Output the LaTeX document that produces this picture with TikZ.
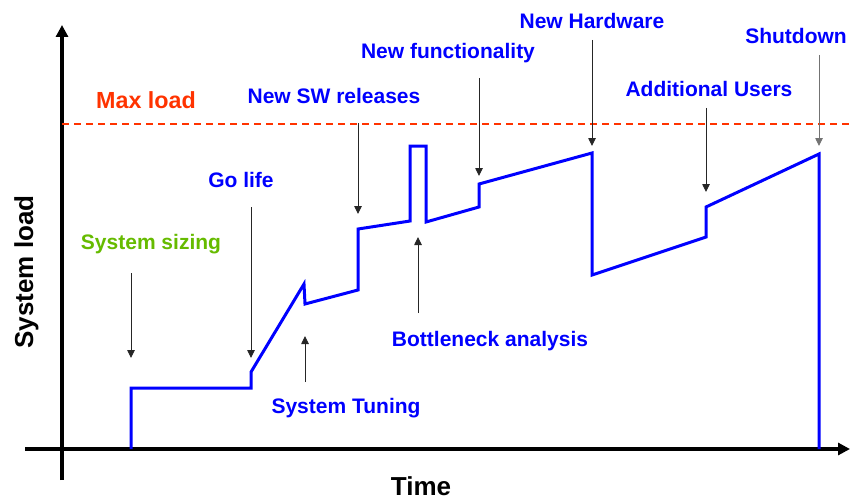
\documentclass[tikz,border=0pt]{standalone}
\usepackage{fontspec}
\setmainfont{Liberation Sans}
\usetikzlibrary{arrows.meta}
\definecolor{maxred}{RGB}{255,51,0}
\definecolor{sizegreen}{RGB}{102,187,0}
\definecolor{lblue}{RGB}{0,0,255}
\begin{document}
\begin{tikzpicture}[x=1pt,y=-1pt,
  lbl/.style={font=\fontsize{21}{21}\selectfont\bfseries, text=lblue, inner sep=0pt, anchor=base},
  axlbl/.style={font=\fontsize{26}{26}\selectfont\bfseries, text=black, inner sep=0pt, anchor=base},
  ptr/.style={draw=black!85, line width=0.9pt, -{Triangle[length=8pt,width=7.5pt]}},
  axis/.style={draw=black, line width=3.5pt, -{Triangle[length=12pt,width=12pt]}},
  curve/.style={draw=lblue, line width=3pt, line join=miter},
  maxline/.style={draw=maxred, line width=1.5pt, dash pattern=on 7pt off 5pt}]
\useasboundingbox (0,0) rectangle (850,500);
% axes
\coordinate (xs) at (25,449);
\coordinate (xe) at (850,449);
\coordinate (ys) at (62,480);
\coordinate (ye) at (62,25);
\draw[axis] (xs) -- (xe);
\draw[axis] (ys) -- (ye);
% max load line
\coordinate (ms) at (62,124);
\coordinate (me) at (850,124);
\draw[maxline] (ms) -- (me);
% load curve
\draw[curve] (131,449) -- (131,388) -- (251,388) -- (251,372) -- (304,284) -- (305,304)
  -- (358,290) -- (358,229) -- (410,221) -- (410,146) -- (426,146) -- (426,222)
  -- (479,207) -- (479,184) -- (592,153) -- (592,275) -- (706,237) -- (706,207)
  -- (819,154) -- (819,449);
% labels
\node[axlbl, rotate=90] (ylab) at (33,272) {System load};
\node[axlbl] (xlab) at (421,495) {Time};
\node[lbl, text=maxred, font=\fontsize{23.3}{23.3}\selectfont\bfseries] (maxl) at (146,109) {Max load};
\node[lbl, text=sizegreen] (ssz) at (151,249) {System sizing};
\node[lbl] (gol) at (241,187) {Go life};
\node[lbl] (swr) at (334,103) {New SW releases};
\node[lbl] (nfn) at (448,59) {New functionality};
\node[lbl] (nhw) at (592,29) {New Hardware};
\node[lbl] (shd) at (796,44) {Shutdown};
\node[lbl] (adu) at (709,97) {Additional Users};
\node[lbl] (bna) at (490,346) {Bottleneck analysis};
\node[lbl] (stu) at (346,413) {System Tuning};
% pointer end points
\coordinate (a1s) at (131,273); \coordinate (a1e) at (131,358);
\coordinate (a2s) at (251,207); \coordinate (a2e) at (251,358);
\coordinate (a3s) at (305,382); \coordinate (a3e) at (305,336);
\coordinate (a4s) at (358,123); \coordinate (a4e) at (358,214);
\coordinate (a5s) at (418,313); \coordinate (a5e) at (418,237);
\coordinate (a6s) at (479,78);  \coordinate (a6e) at (479,176);
\coordinate (a7s) at (592,40);  \coordinate (a7e) at (592,146);
\coordinate (a8s) at (706,108); \coordinate (a8e) at (706,192);
\coordinate (a9s) at (819,55);  \coordinate (a9e) at (819,146);
\draw[ptr] (a1s) -- (a1e);
\draw[ptr] (a2s) -- (a2e);
\draw[ptr] (a3s) -- (a3e);
\draw[ptr] (a4s) -- (a4e);
\draw[ptr] (a5s) -- (a5e);
\draw[ptr] (a6s) -- (a6e);
\draw[ptr] (a7s) -- (a7e);
\draw[ptr] (a8s) -- (a8e);
\draw[ptr, draw=black!55] (a9s) -- (a9e);
\end{tikzpicture}
\end{document}
